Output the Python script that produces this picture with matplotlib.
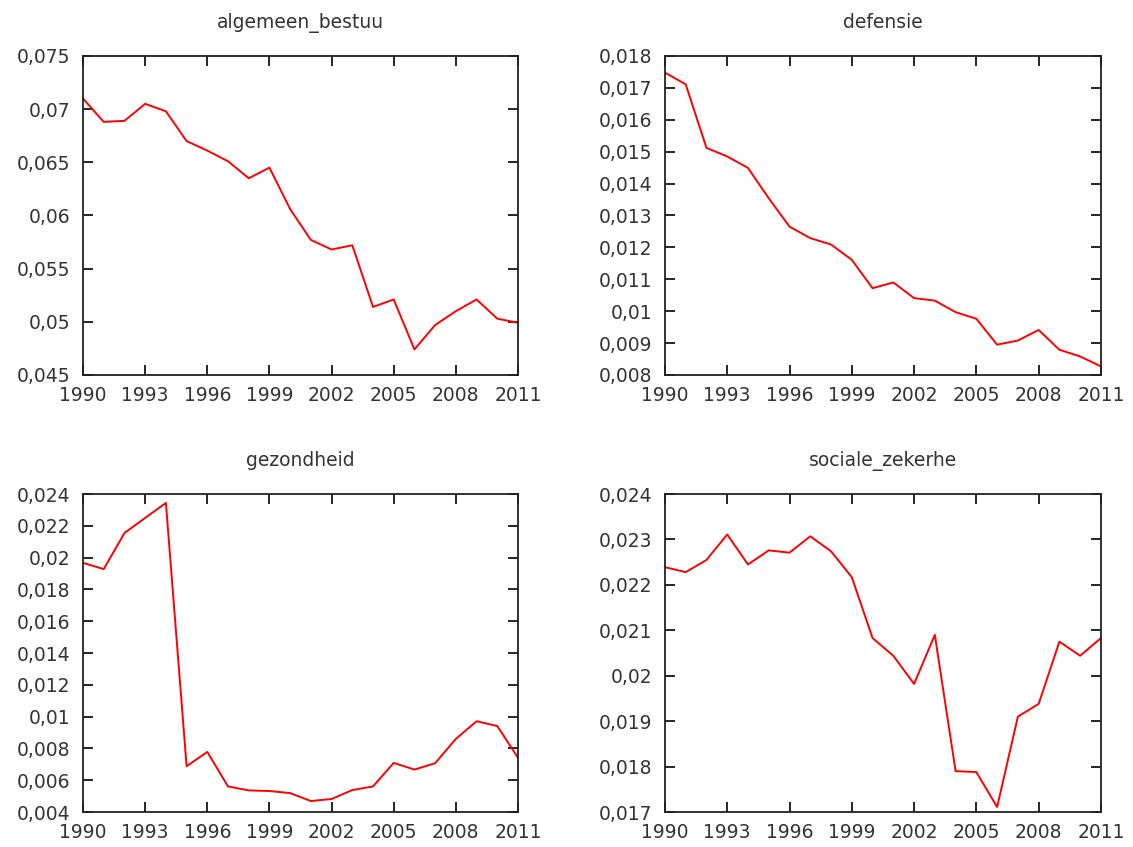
import matplotlib
matplotlib.use("Agg")
import matplotlib.pyplot as plt
from matplotlib.ticker import FuncFormatter, FixedLocator

years = list(range(1990, 2012))
year_ticks = [1990, 1993, 1996, 1999, 2002, 2005, 2008, 2011]

algemeen_bestuu = [0.0710, 0.0688, 0.0689, 0.0705, 0.0698, 0.0670, 0.0661, 0.0651,
                   0.0635, 0.0645, 0.0606, 0.0577, 0.0568, 0.0572, 0.0514, 0.0521,
                   0.0474, 0.0497, 0.0510, 0.0521, 0.0503, 0.0499]
defensie = [0.01748, 0.01711, 0.01512, 0.01485, 0.01449, 0.01354, 0.01265, 0.01229,
            0.01209, 0.01161, 0.01072, 0.01090, 0.01041, 0.01033, 0.00997, 0.00976,
            0.00895, 0.00908, 0.00941, 0.00879, 0.00858, 0.00827]
gezondheid = [0.01967, 0.01928, 0.02155, 0.02250, 0.02344, 0.00688, 0.00778, 0.00561,
              0.00536, 0.00532, 0.00519, 0.00469, 0.00482, 0.00538, 0.00561, 0.00709,
              0.00667, 0.00707, 0.00860, 0.00971, 0.00941, 0.00741]
sociale_zekerhe = [0.02239, 0.02228, 0.02255, 0.02311, 0.02245, 0.02276, 0.02271, 0.02307,
                   0.02274, 0.02217, 0.02083, 0.02044, 0.01982, 0.02090, 0.01790, 0.01788,
                   0.01711, 0.01910, 0.01938, 0.02075, 0.02044, 0.02083]

titles = ["algemeen_bestuu", "defensie", "gezondheid", "sociale_zekerhe"]
series = [algemeen_bestuu, defensie, gezondheid, sociale_zekerhe]
y_limits = [(0.045, 0.075), (0.008, 0.018), (0.004, 0.024), (0.017, 0.024)]
y_steps = [0.005, 0.001, 0.002, 0.001]

# axes boxes in figure fractions (left, bottom, width, height)
boxes = [(0.0733, 0.5573, 0.3839, 0.3766),
         (0.5869, 0.5573, 0.3848, 0.3766),
         (0.0733, 0.0413, 0.3839, 0.3754),
         (0.5869, 0.0413, 0.3848, 0.3754)]


def komma(v, pos):
    s = f"{v:.3f}".rstrip("0").rstrip(".")
    return s.replace(".", ",")


plt.rcParams["font.family"] = "DejaVu Sans"
fig = plt.figure(figsize=(11.33, 8.47), dpi=100)

for titel, data, (lo, hi), step, box in zip(titles, series, y_limits, y_steps, boxes):
    ax = fig.add_axes(box)
    ax.plot(years, data, color="#ff0000", linewidth=1.4)
    ax.set_xlim(1990, 2011)
    ax.set_ylim(lo, hi)
    n = int(round((hi - lo) / step))
    ax.yaxis.set_major_locator(FixedLocator([lo + i * step for i in range(n + 1)]))
    ax.xaxis.set_major_locator(FixedLocator(year_ticks))
    ax.yaxis.set_major_formatter(FuncFormatter(komma))
    ax.tick_params(direction="in", length=7.5, width=1.2, top=True, right=True,
                   labelsize=13.5, labelcolor="#333333")
    ax.tick_params(axis="y", pad=9)
    ax.tick_params(axis="x", pad=8)
    for sp in ax.spines.values():
        sp.set_linewidth(1.3)
        sp.set_color("#222222")
    ax.set_title(titel, fontsize=13.5, color="#333333", pad=20)

fig.savefig("out.png", dpi=100)
